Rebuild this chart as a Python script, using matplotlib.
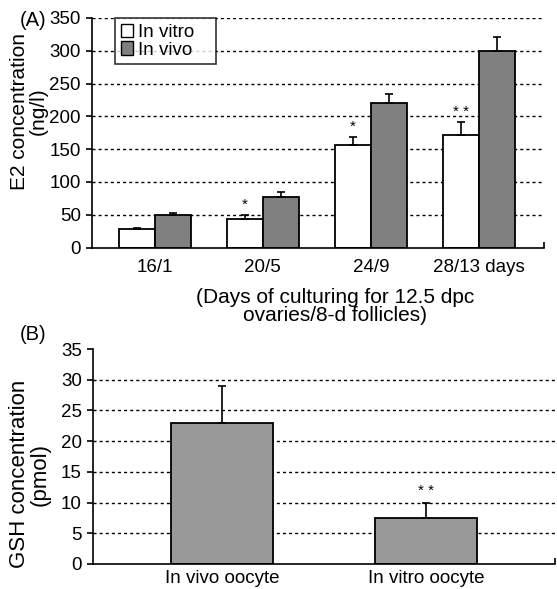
import matplotlib
matplotlib.use('Agg')
import matplotlib.pyplot as plt
from matplotlib.patches import Patch
import numpy as np

plt.rcParams['font.family'] = ['Liberation Sans', 'DejaVu Sans']

# Panel A data
categories = ['16/1', '20/5', '24/9', '28/13 days']
in_vitro = [28, 44, 157, 172]
in_vitro_err = [2, 6, 12, 19]
in_vivo = [50, 77, 220, 300]
in_vivo_err = [3, 7, 14, 21]
stars_a = ['', '*', '*', '* *']   # over in vitro bars

# Panel B data
oocytes = ['In vivo oocyte', 'In vitro oocyte']
gsh = [23.0, 7.5]
gsh_err = [6.0, 2.4]
stars_b = ['', '* *']

fig = plt.figure(figsize=(5.57, 5.89), dpi=100)

grid_style = dict(color='black', linestyle=(0, (2.2, 2.2)), linewidth=1.0, zorder=0)

# ------- Panel A
ax = fig.add_axes([92 / 557, 1 - 247.5 / 589, 452 / 557, 229.5 / 589])
x = np.arange(len(categories))
w = 0.333
ax.bar(x - w / 2, in_vitro, w, color='white', edgecolor='black', linewidth=1.3, zorder=2)
ax.bar(x + w / 2, in_vivo, w, color='#808080', edgecolor='black', linewidth=1.3, zorder=2)
ax.errorbar(x - w / 2, in_vitro, yerr=[np.zeros(len(x)), in_vitro_err], fmt='none',
            ecolor='black', elinewidth=1.2, capsize=3, capthick=1.2, zorder=3)
ax.errorbar(x + w / 2, in_vivo, yerr=[np.zeros(len(x)), in_vivo_err], fmt='none',
            ecolor='black', elinewidth=1.2, capsize=3, capthick=1.2, zorder=3)
for i, s in enumerate(stars_a):
    if s:
        ax.annotate(s, (x[i] - w / 2, in_vitro[i] + in_vitro_err[i]), xytext=(0, 2),
                    textcoords='offset points', ha='center', va='bottom', fontsize=11)

for v in range(50, 351, 50):
    ax.axhline(v, **grid_style)
ax.set_ylim(0, 350)
ax.set_xlim(-0.58, 3.6)
ax.set_yticks(range(0, 351, 50))
ax.set_xticks(x)
ax.set_xticklabels(categories)
ax.set_xticks([3.6], minor=True)
ax.tick_params(axis='x', which='major', length=0, pad=8, labelsize=13.5)
ax.tick_params(axis='x', which='minor', direction='in', length=4, width=1.2)
ax.tick_params(axis='y', length=4, width=1.2, pad=4, labelsize=13.5)
for t in ax.get_xticklabels():
    if t.get_text().endswith('days'):
        t.set_x(3.3)
for sp in ['top', 'right']:
    ax.spines[sp].set_visible(False)
for sp in ['left', 'bottom']:
    ax.spines[sp].set_linewidth(1.2)

ax.set_xlabel('(Days of culturing for 12.5 dpc\novaries/8-d follicles)', fontsize=15, linespacing=0.95)
ax.xaxis.set_label_coords((335 - 92) / 452, -(288 - 247.5) / 229.5)

leg = ax.legend(handles=[Patch(facecolor='white', edgecolor='black', label='In vitro   '),
                         Patch(facecolor='#808080', edgecolor='black', label='In vivo   ')],
                loc='upper left', bbox_to_anchor=(0.051, 1.0), fontsize=13.5, frameon=True,
                fancybox=False, handlelength=0.65, handleheight=0.75, handletextpad=0.3,
                labelspacing=0.02, borderpad=0.3, borderaxespad=0)
leg.get_frame().set_edgecolor('black')
leg.get_frame().set_linewidth(1.2)

fig.text(29 / 557, 1 - 111 / 589, 'E2 concentration\n(ng/l)', rotation=90, ha='center', va='center',
         fontsize=15, linespacing=1.0)
fig.text(20 / 557, 1 - 21 / 589, '(A)', ha='left', va='center', fontsize=14.5)

# ------- Panel B
bx = fig.add_axes([93 / 557, 1 - 564 / 589, 462 / 557, 215 / 589])
xb = np.arange(len(oocytes))
bx.bar(xb, gsh, 0.5, color='#999999', edgecolor='black', linewidth=1.3, zorder=2)
bx.errorbar(xb, gsh, yerr=[np.zeros(len(xb)), gsh_err], fmt='none',
            ecolor='black', elinewidth=1.2, capsize=3, capthick=1.2, zorder=3)
for i, s in enumerate(stars_b):
    if s:
        bx.annotate(s, (xb[i], gsh[i] + gsh_err[i]), xytext=(0, 4),
                    textcoords='offset points', ha='center', va='bottom', fontsize=11)
for v in range(5, 31, 5):
    bx.axhline(v, **grid_style)
bx.set_ylim(0, 35)
bx.set_xlim(-0.63, 1.63)
bx.set_yticks(range(0, 36, 5))
bx.set_xticks(xb)
bx.set_xticklabels(oocytes)
bx.set_xticks([1.63], minor=True)
bx.tick_params(axis='x', which='major', length=0, pad=4, labelsize=13.5)
bx.tick_params(axis='x', which='minor', direction='in', length=4, width=1.2)
bx.tick_params(axis='y', length=4, width=1.2, pad=4, labelsize=13.5)
for sp in ['top', 'right']:
    bx.spines[sp].set_visible(False)
for sp in ['left', 'bottom']:
    bx.spines[sp].set_linewidth(1.2)

fig.text(30 / 557, 1 - 474 / 589, 'GSH concentration\n(pmol)', rotation=90, ha='center', va='center',
         fontsize=16, linespacing=1.0)
fig.text(20 / 557, 1 - 335 / 589, '(B)', ha='left', va='center', fontsize=14.5)

fig.savefig('out.png', dpi=100)
